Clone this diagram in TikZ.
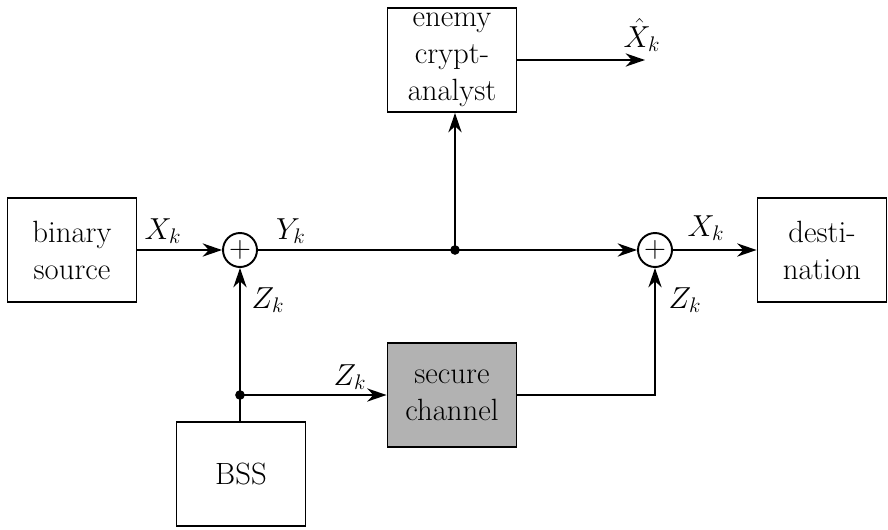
\documentclass[tikz,border=0pt]{standalone}
\usepackage{amsmath,amssymb}
\usetikzlibrary{arrows.meta}

\tikzset{
  block/.style={draw, line width=1.1pt, minimum width=2.58cm, minimum height=2.08cm, align=center, inner sep=1pt},
  adder/.style={draw, circle, line width=1.1pt, minimum size=0.68cm, inner sep=0pt},
  junction/.style={circle, fill=black, minimum size=5.5pt, inner sep=0pt},
  sig/.style={line width=1.1pt, -{Stealth[length=11pt, width=7.5pt, inset=3.5pt]}},
  wire/.style={line width=1.1pt},
  lbl/.style={inner sep=1pt}
}

\begin{document}
\begin{tikzpicture}[font=\fontsize{17.5}{21}\selectfont]
\useasboundingbox (0,0) rectangle (17.76,10.58);

% blocks
\node[block] (src) at (1.44, 5.58) {binary\\source};
\node[block] (enemy) at (9.04, 9.38) {enemy\\crypt-\\analyst};
\node[block] (dest) at (16.44, 5.58) {desti-\\nation};
\node[block, fill=gray!60] (chan) at (9.04, 2.68) {secure\\channel};
\node[block] (bss) at (4.82, 1.10) {BSS};

% adders and branch points
\node[adder] (add1) at (4.80, 5.58) {$+$};
\node[adder] (add2) at (13.10, 5.58) {$+$};
\node[junction] (dot1) at (9.10, 5.58) {};
\node[junction] (dot2) at (4.80, 2.68) {};
\coordinate (out) at (12.90, 9.38);

% connectors
\draw[sig] (src) -- (add1);
\draw[wire] (add1) -- (dot1.center);
\draw[sig] (dot1.center) -- (add2);
\draw[sig] (add2) -- (dest);
\draw[sig] (dot1.center) -- (dot1 |- enemy.south);
\draw[sig] (enemy) -- (out);
\draw[sig] (bss.north -| add1) -- (add1);
\draw[sig] (dot2.center) -- (chan);
\draw[sig] (chan.east) -| (add2);

% labels
\node[lbl] (lx1) at (3.26, 5.96) {$X_k$};
\node[lbl] (ly) at (5.82, 5.96) {$Y_k$};
\node[lbl] (lz1) at (5.36, 4.58) {$Z_k$};
\node[lbl] (lz2) at (7.00, 3.04) {$Z_k$};
\node[lbl] (lx2) at (14.12, 6.02) {$X_k$};
\node[lbl] (lz3) at (13.70, 4.58) {$Z_k$};
\node[lbl] (lxh) at (12.84, 9.88) {$\hat{X}_k$};
\end{tikzpicture}
\end{document}
